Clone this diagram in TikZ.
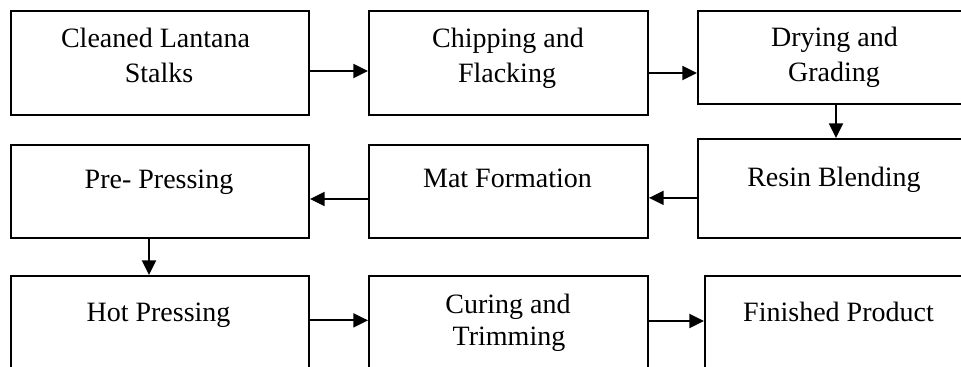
\documentclass[tikz,border=0pt]{standalone}
\usepackage{fontspec}
\setmainfont{Liberation Serif}
\usetikzlibrary{arrows.meta}
\begin{document}
\begin{tikzpicture}[x=0.75pt,y=-0.75pt,
  box/.style={draw, line width=1.5pt, rectangle, inner sep=0pt, anchor=north west},
  txt/.style={font=\fontsize{21}{25}\selectfont, inner sep=0pt, anchor=base},
  arr/.style={line width=1.4pt, -{Triangle[length=11pt,width=10.5pt]}}]
\clip (0,0) rectangle (961,367);
\fill[white] (0,0) rectangle (961,367);

% process boxes (right column and bottom row run past the page edge)
\node[box, minimum width=223.5pt, minimum height=78pt]    (a) at (10,10)   {};
\node[box, minimum width=209.25pt, minimum height=78pt]   (b) at (368,10)  {};
\node[box, minimum width=207pt, minimum height=69.75pt]   (c) at (697,10)  {};
\node[box, minimum width=207pt, minimum height=74.25pt]   (d) at (697,138) {};
\node[box, minimum width=209.25pt, minimum height=69.75pt](e) at (368,144) {};
\node[box, minimum width=223.5pt, minimum height=69.75pt] (f) at (10,144)  {};
\node[box, minimum width=223.5pt, minimum height=82.5pt]  (g) at (10,275)  {};
\node[box, minimum width=209.25pt, minimum height=82.5pt] (h) at (368,275) {};
\node[box, minimum width=201.75pt, minimum height=82.5pt] (i) at (704,275) {};

% box captions
\node[txt] (a1) at (155.5,48) {Cleaned Lantana};
\node[txt] (a2) at (159,83)   {Stalks};
\node[txt] (b1) at (508,48)   {Chipping and};
\node[txt] (b2) at (507,83)   {Flacking};
\node[txt] (c1) at (834.5,47) {Drying and};
\node[txt] (c2) at (834,82)   {Grading};
\node[txt] (d1) at (834,187)  {Resin Blending};
\node[txt] (e1) at (507.5,188){Mat Formation};
\node[txt] (f1) at (159,189)  {Pre- Pressing};
\node[txt] (g1) at (158.5,321){Hot Pressing};
\node[txt] (h1) at (508,313)  {Curing and};
\node[txt] (h2) at (509,345)  {Trimming};
\node[txt] (i1) at (838.5,321){Finished Product};

% flow arrows
\coordinate (ab) at ([yshift=-6pt]a.east);
\coordinate (bc) at ([yshift=-7.5pt]b.east);
\coordinate (de) at ([yshift=-7pt]d.west);
\coordinate (ef) at ([yshift=-5.6pt]e.west);
\coordinate (fg) at ([xshift=-8.25pt]f.south);
\coordinate (gh) at ([yshift=-34pt]g.north east);
\coordinate (hi) at ([yshift=-34.5pt]h.north east);

\draw[arr] (ab) -- (ab -| b.west);
\draw[arr] (bc) -- (bc -| c.west);
\draw[arr] (c.south) -- (d.north);
\draw[arr] (de) -- (de -| e.east);
\draw[arr] (ef) -- (ef -| f.east);
\draw[arr] (fg) -- (fg |- g.north);
\draw[arr] (gh) -- (gh -| h.west);
\draw[arr] (hi) -- (hi -| i.west);
\end{tikzpicture}
\end{document}
